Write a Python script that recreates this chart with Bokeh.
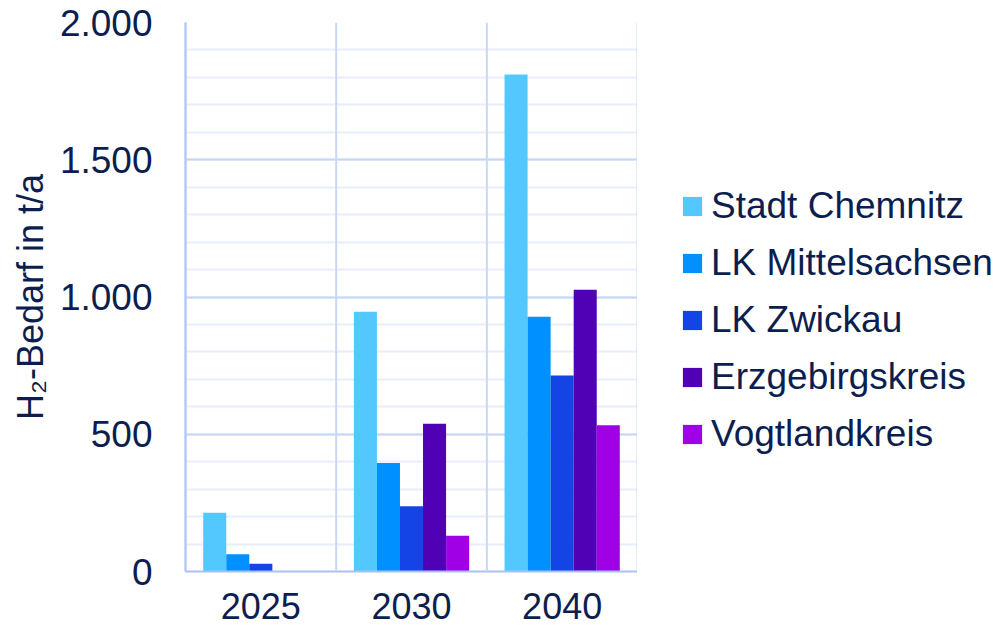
from bokeh.plotting import figure
from bokeh.models import (ColumnDataSource, Legend, LegendItem, Span,
                          FixedTicker, FactorRange)
from bokeh.transform import dodge
from bokeh.layouts import row
from bokeh.embed import file_html
from bokeh.resources import INLINE

# ---- data ----
years = ["2025", "2030", "2040"]
regions = ["Stadt Chemnitz", "LK Mittelsachsen", "LK Zwickau", "Erzgebirgskreis", "Vogtlandkreis"]
stadt_chemnitz = [214, 946, 1811]
lk_mittelsachsen = [63, 395, 928]
lk_zwickau = [28, 238, 714]
erzgebirgskreis = [0, 538, 1026]
vogtlandkreis = [0, 130, 533]
y_ticks = [0, 500, 1000, 1500, 2000]
y_tick_labels = ["0", "500", "1.000", "1.500", "2.000"]
y_minor_ticks = list(range(0, 2001, 100))
y_label = "H\u2082-Bedarf in t/a"

colors = ["#52C8FF", "#0090FF", "#1443E6", "#5000B5", "#A000E6"]
TEXT = "#0C1E4F"
FONT = "Liberation Sans"

source = ColumnDataSource(dict(
    year=years,
    s0=stadt_chemnitz, s1=lk_mittelsachsen, s2=lk_zwickau,
    s3=erzgebirgskreis, s4=vogtlandkreis,
))

p = figure(width=637, height=634, x_range=FactorRange(*years), y_range=(0, 2000),
           output_backend="svg", toolbar_location=None,
           min_border_left=185, min_border_right=0, min_border_top=22, min_border_bottom=63)
p.outline_line_color = None
p.background_fill_color = "white"
p.border_fill_color = "white"

# grids
p.xgrid.visible = False
p.ygrid.ticker = FixedTicker(ticks=y_ticks, minor_ticks=y_minor_ticks)
p.ygrid.grid_line_color = "#C6D6F7"
p.ygrid.grid_line_width = 2
p.ygrid.minor_grid_line_color = "#E7EEFC"
p.ygrid.minor_grid_line_width = 2
for b in range(len(years) + 1):
    p.add_layout(Span(location=b, dimension="height", line_color="#C9D8F6", line_width=2))

# bars
w = 0.153
offsets = [-2 * w, -w, 0, w, 2 * w]
for i, c in enumerate(colors):
    p.vbar(x=dodge("year", offsets[i], range=p.x_range), top="s%d" % i, width=w,
           source=source, fill_color=c, line_color=None)

# y axis
ya = p.yaxis[0]
ya.ticker = FixedTicker(ticks=y_ticks)
ya.major_label_overrides = {t: l for t, l in zip(y_ticks, y_tick_labels)}
ya.major_tick_line_color = None
ya.minor_tick_line_color = None
ya.major_tick_out = 0
ya.minor_tick_out = 0
ya.major_label_standoff = 33
ya.major_label_text_font = FONT
ya.major_label_text_font_size = "37px"
ya.major_label_text_color = TEXT
ya.axis_line_color = "#9AB5F5"
ya.axis_line_width = 2
ya.axis_label = y_label
ya.axis_label_text_font = FONT
ya.axis_label_text_font_size = "36px"
ya.axis_label_text_font_style = "normal"
ya.axis_label_text_color = TEXT
ya.axis_label_standoff = 6

# x axis
xa = p.xaxis[0]
xa.major_tick_line_color = None
xa.minor_tick_line_color = None
xa.major_tick_out = 0
xa.major_label_standoff = 21
xa.major_label_text_font = FONT
xa.major_label_text_font_size = "36px"
xa.major_label_text_color = TEXT
xa.axis_line_color = "#A9C1F5"
xa.axis_line_width = 2

# legend panel (separate figure to the right of the chart; its key renderers are hidden)
lp = figure(width=358, height=634, x_range=FactorRange(*years), y_range=(5000, 6000),
            output_backend="svg", toolbar_location=None,
            x_axis_location=None, y_axis_location=None, min_border=0)
lp.grid.visible = False
lp.outline_line_color = None
lp.background_fill_color = "white"
lp.border_fill_color = "white"
keys = [lp.vbar(x=dodge("year", offsets[i], range=lp.x_range), top="s%d" % i, width=w,
                source=source, fill_color=c, line_color=None, visible=False)
        for i, c in enumerate(colors)]
items = [LegendItem(label=n, renderers=[r]) for n, r in zip(regions, keys)]
legend = Legend(items=items, location=(43, 116), padding=0, margin=0,
                glyph_width=24, glyph_height=24, label_standoff=7, spacing=15,
                label_text_font=FONT, label_text_font_size="37px", label_text_color=TEXT,
                border_line_color=None, background_fill_alpha=0, click_policy="none")
lp.add_layout(legend)

layout = row(p, lp)
open("out.html", "w").write(file_html(layout, INLINE))
